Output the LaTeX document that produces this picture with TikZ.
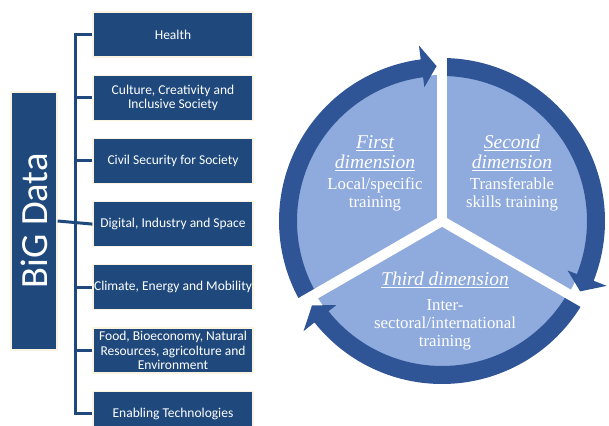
\documentclass[tikz,border=0pt]{standalone}
\usepackage{fontspec}
\setmainfont{Liberation Serif}
\newfontfamily\boxfont{Carlito}
\usetikzlibrary{positioning,calc}

\definecolor{navy}{HTML}{1F497D}
\definecolor{ringblue}{HTML}{2F5597}
\definecolor{pieblue}{HTML}{8FAADC}
\definecolor{cream}{HTML}{FBF3E2}

\tikzset{
  area/.style={fill=navy, draw=cream, line width=1.2pt, text=white, inner sep=0pt,
    minimum width=160pt, minimum height=45pt, align=center,
    font=\boxfont\fontsize{13.5}{14.5}\selectfont},
  link/.style={navy, line width=3pt},
  ring/.style={fill=ringblue},
  gap/.style={white, line width=10pt},
  dimtitle/.style={text=white, align=center, font=\itshape\fontsize{19.5}{20}\selectfont},
  dimtext/.style={text=white, align=center, font=\fontsize{16.8}{18}\selectfont},
}

\begin{document}
\begin{tikzpicture}[x=1pt, y=1pt, node distance=17pt]
\useasboundingbox (0,0) rectangle (609,425);

% topic boxes
\node[area] (health) at (173,390.5) {Health};
\node[area, below=of health] (culture) {Culture, Creativity and\\Inclusive Society};
\node[area, below=of culture] (civil) {Civil Security for Society};
\node[area, below=of civil] (digital) {Digital, Industry and Space};
\node[area, below=of digital] (climate) {Climate, Energy and Mobility};
\node[area, below=of climate] (food) {Food, Bioeconomy, Natural\\Resources, agricolture and\\Environment};
\node[area, below=of food] (enabling) {Enabling Technologies};

% big data box
\node[area, minimum width=46pt, minimum height=258pt] (big) at (34,204) {};
\node[rotate=90, text=white, font=\boxfont\fontsize{38.5}{38.5}\selectfont] (big label) at (big) {BiG Data};

% tree lines
\coordinate (spine) at (75,0);
\draw[link] (health.west) -- (health.west -| spine) -- (enabling.west -| spine) -- (enabling.west);
\foreach \n in {culture, civil, climate, food}
  \draw[link] (\n.west) -- (\n.west -| spine);
\draw[link] (big.east) -- (digital.west);

% cycle of the three dimensions
\coordinate (C) at (442,204);
\fill[pieblue] (C) circle[radius=146pt];
\foreach \s/\t in {210/92, 90/-27, -30/-147}
  \fill[ring] ($(C)+(\s:163pt)$) arc[start angle=\s, end angle=\t+5.5, radius=163pt]
    -- ($(C)+({\t+5.5}:177pt)$) -- ($(C)+(\t:155pt)$) -- ($(C)+({\t+5.5}:135pt)$)
    -- ($(C)+({\t+5.5}:145pt)$) arc[start angle=\t+5.5, end angle=\s, radius=145pt] -- cycle;
\foreach \a in {90,210,330}
  \draw[gap] (C) -- ++(\a:185pt);

\node[dimtitle] (first title) at (375,272) {\underline{First}\\\underline{dimension}};
\node[dimtext] (first text) at (375,231) {Local/specific\\training};
\node[dimtitle] (second title) at (512,272) {\underline{Second}\\\underline{dimension}};
\node[dimtext] (second text) at (512,231) {Transferable\\skills training};
\node[dimtitle] (third title) at (445,145) {\underline{Third dimension}};
\node[dimtext] (third text) at (445,100) {Inter-\\sectoral/international\\training};
\end{tikzpicture}
\end{document}
